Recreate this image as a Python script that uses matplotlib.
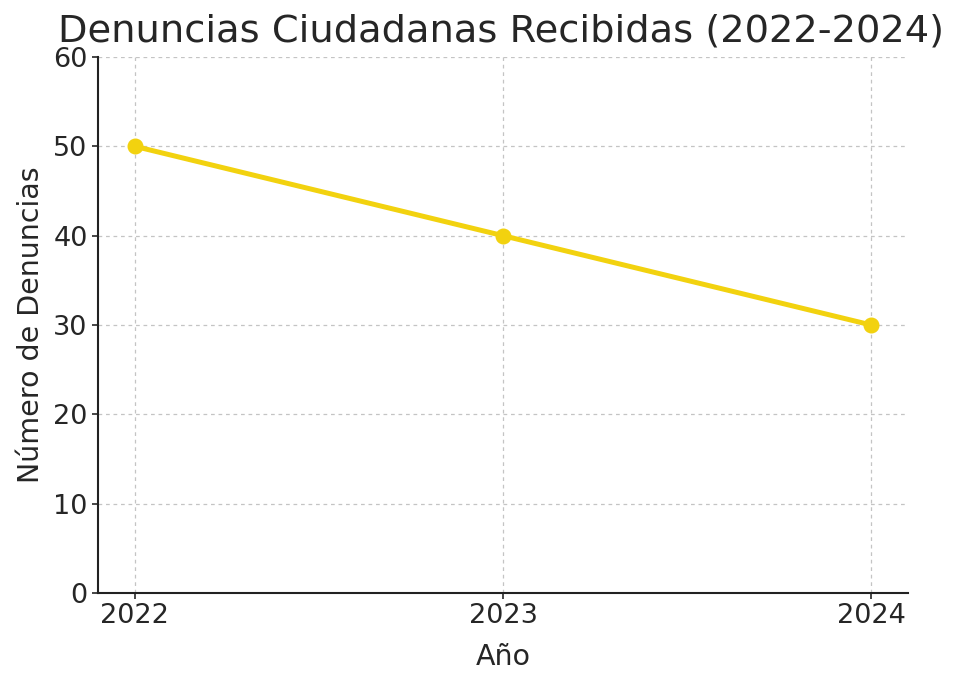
import matplotlib
matplotlib.use("Agg")
import matplotlib.pyplot as plt

years = [2022, 2023, 2024]
denuncias = [50, 40, 30]
y_ticks = [0, 10, 20, 30, 40, 50, 60]

title = "Denuncias Ciudadanas Recibidas (2022-2024)"
x_label = "Año"
y_label = "Número de Denuncias"

text_color = "#262626"
line_color = "#F2D20F"

fig = plt.figure(figsize=(9.57, 6.73), dpi=100)
ax = fig.add_axes([0.1024, 0.1189, 0.8464, 0.7964])

ax.plot(years, denuncias, color=line_color, linewidth=3.6, marker="o", markersize=10.5)

ax.set_xticks(years)
ax.set_xticklabels([str(y) for y in years])
ax.set_yticks(y_ticks)
ax.set_ylim(0, 60)
ax.set_xlim(2021.9, 2024.1)

ax.grid(True, linestyle=(0, (3, 3)), color="#c4c4c4", linewidth=0.9)
ax.set_axisbelow(True)

for side in ["top", "right"]:
    ax.spines[side].set_visible(False)
for side in ["left", "bottom"]:
    ax.spines[side].set_linewidth(1.5)
    ax.spines[side].set_color("#222222")

ax.tick_params(axis="both", labelsize=19.5, colors=text_color, length=4, width=1.2)
ax.set_xlabel(x_label, fontsize=20.5, color=text_color, labelpad=10)
ax.set_ylabel(y_label, fontsize=20.5, color=text_color, labelpad=6)

# title placed by hand so it sits just above the "60" label like the original
fig.text(0.524, 0.9376, title, fontsize=27.6, color=text_color,
         ha="center", va="baseline")

fig.savefig("out.png", dpi=100)
